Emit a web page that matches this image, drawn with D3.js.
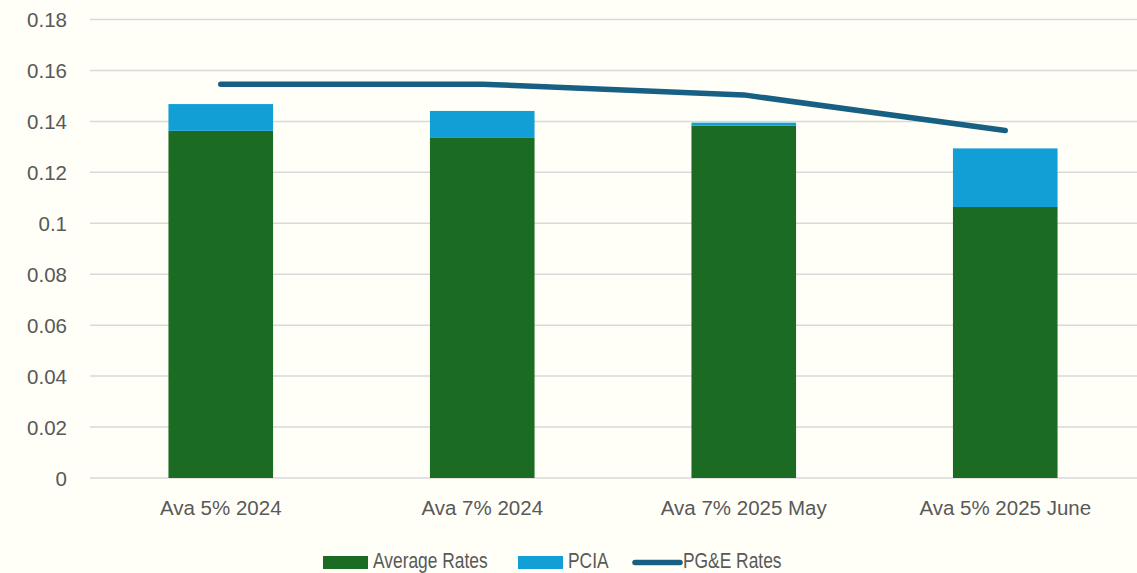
<!DOCTYPE html>
<html><head><meta charset="utf-8">
<script src="https://cdn.jsdelivr.net/npm/d3@7"></script>
<style>
html,body{margin:0;padding:0;background:#fffff7;}
svg{display:block;}
text{font-family:"Liberation Sans",Arial,sans-serif;fill:#595959;}
</style></head>
<body><svg id="c" width="1137" height="573"></svg>
<script>
const categories = ["Ava 5% 2024","Ava 7% 2024","Ava 7% 2025 May","Ava 5% 2025 June"];
const averageRates = [0.1363,0.1335,0.1383,0.1064];
const pcia = [0.0105,0.0106,0.0012,0.0230];
const pgeRates = [0.1546,0.1546,0.1504,0.1364];
const yTicks = [0,0.02,0.04,0.06,0.08,0.1,0.12,0.14,0.16,0.18];

const svg = d3.select("#c");
const x = d3.scaleBand().domain(categories).range([90,1136]).paddingInner(0.6).paddingOuter(0.3);
const y = d3.scaleLinear().domain([0,0.18]).range([478,19.5]);

// gridlines
svg.append("g").selectAll("line").data(yTicks).join("line")
  .attr("x1",90).attr("x2",1137).attr("y1",d=>y(d)).attr("y2",d=>y(d))
  .attr("stroke","#d9d9d9").attr("stroke-width",1.5);

// y axis labels
const yAxis = d3.axisLeft(y).tickValues(yTicks).tickFormat(d=>String(+d.toFixed(2))).tickSize(0).tickPadding(0);
const ga = svg.append("g").attr("transform","translate(67,0)").call(yAxis);
ga.select(".domain").remove();
ga.selectAll("text").attr("font-size",20.5).attr("fill","#595959").attr("font-family","Liberation Sans, Arial, sans-serif").attr("dy","0.36em");

// bars
const stacked = categories.map((c,i)=>({c, a:averageRates[i], p:pcia[i]}));
svg.append("g").selectAll("rect").data(stacked).join("rect")
  .attr("x",d=>x(d.c)).attr("width",x.bandwidth())
  .attr("y",d=>y(d.a)).attr("height",d=>y(0)-y(d.a)).attr("fill","#1b6b23");
svg.append("g").selectAll("rect").data(stacked).join("rect")
  .attr("x",d=>x(d.c)).attr("width",x.bandwidth())
  .attr("y",d=>y(d.a+d.p)).attr("height",d=>y(d.a)-y(d.a+d.p)).attr("fill","#119fd6");

// line
const line = d3.line().x((d,i)=>x(categories[i])+x.bandwidth()/2).y(d=>y(d)).curve(d3.curveLinear);
svg.append("path").datum(pgeRates).attr("d",line).attr("fill","none")
  .attr("stroke","#175f83").attr("stroke-width",5.5).attr("stroke-linecap","round").attr("stroke-linejoin","round");

// x axis labels
const xAxis = d3.axisBottom(x).tickSize(0).tickPadding(0);
const gx = svg.append("g").attr("transform","translate(0,508)").call(xAxis);
gx.select(".domain").remove();
gx.selectAll("text").attr("font-size",20.5).attr("fill","#595959").attr("font-family","Liberation Sans, Arial, sans-serif").attr("dy","0.36em");

// legend
const legend = [
  {name:"Average Rates", type:"rect", color:"#1b6b23", x:323},
  {name:"PCIA", type:"rect", color:"#119fd6", x:518},
  {name:"PG&E Rates", type:"line", color:"#175f83", x:633}
];
const lg = svg.append("g");
legend.forEach(l=>{
  if(l.type==="rect"){
    lg.append("rect").attr("x",l.x).attr("y",556).attr("width",45).attr("height",13).attr("fill",l.color);
  } else {
    lg.append("line").attr("x1",l.x+2).attr("x2",l.x+47).attr("y1",562.5).attr("y2",562.5)
      .attr("stroke",l.color).attr("stroke-width",5.5).attr("stroke-linecap","round");
  }
  const t = lg.append("text").attr("x",l.x+50).attr("y",568).attr("font-size",22).text(l.name);
  const w = t.node().getComputedTextLength();
  t.attr("textLength",w*0.79).attr("lengthAdjust","spacingAndGlyphs");
});
</script></body></html>
